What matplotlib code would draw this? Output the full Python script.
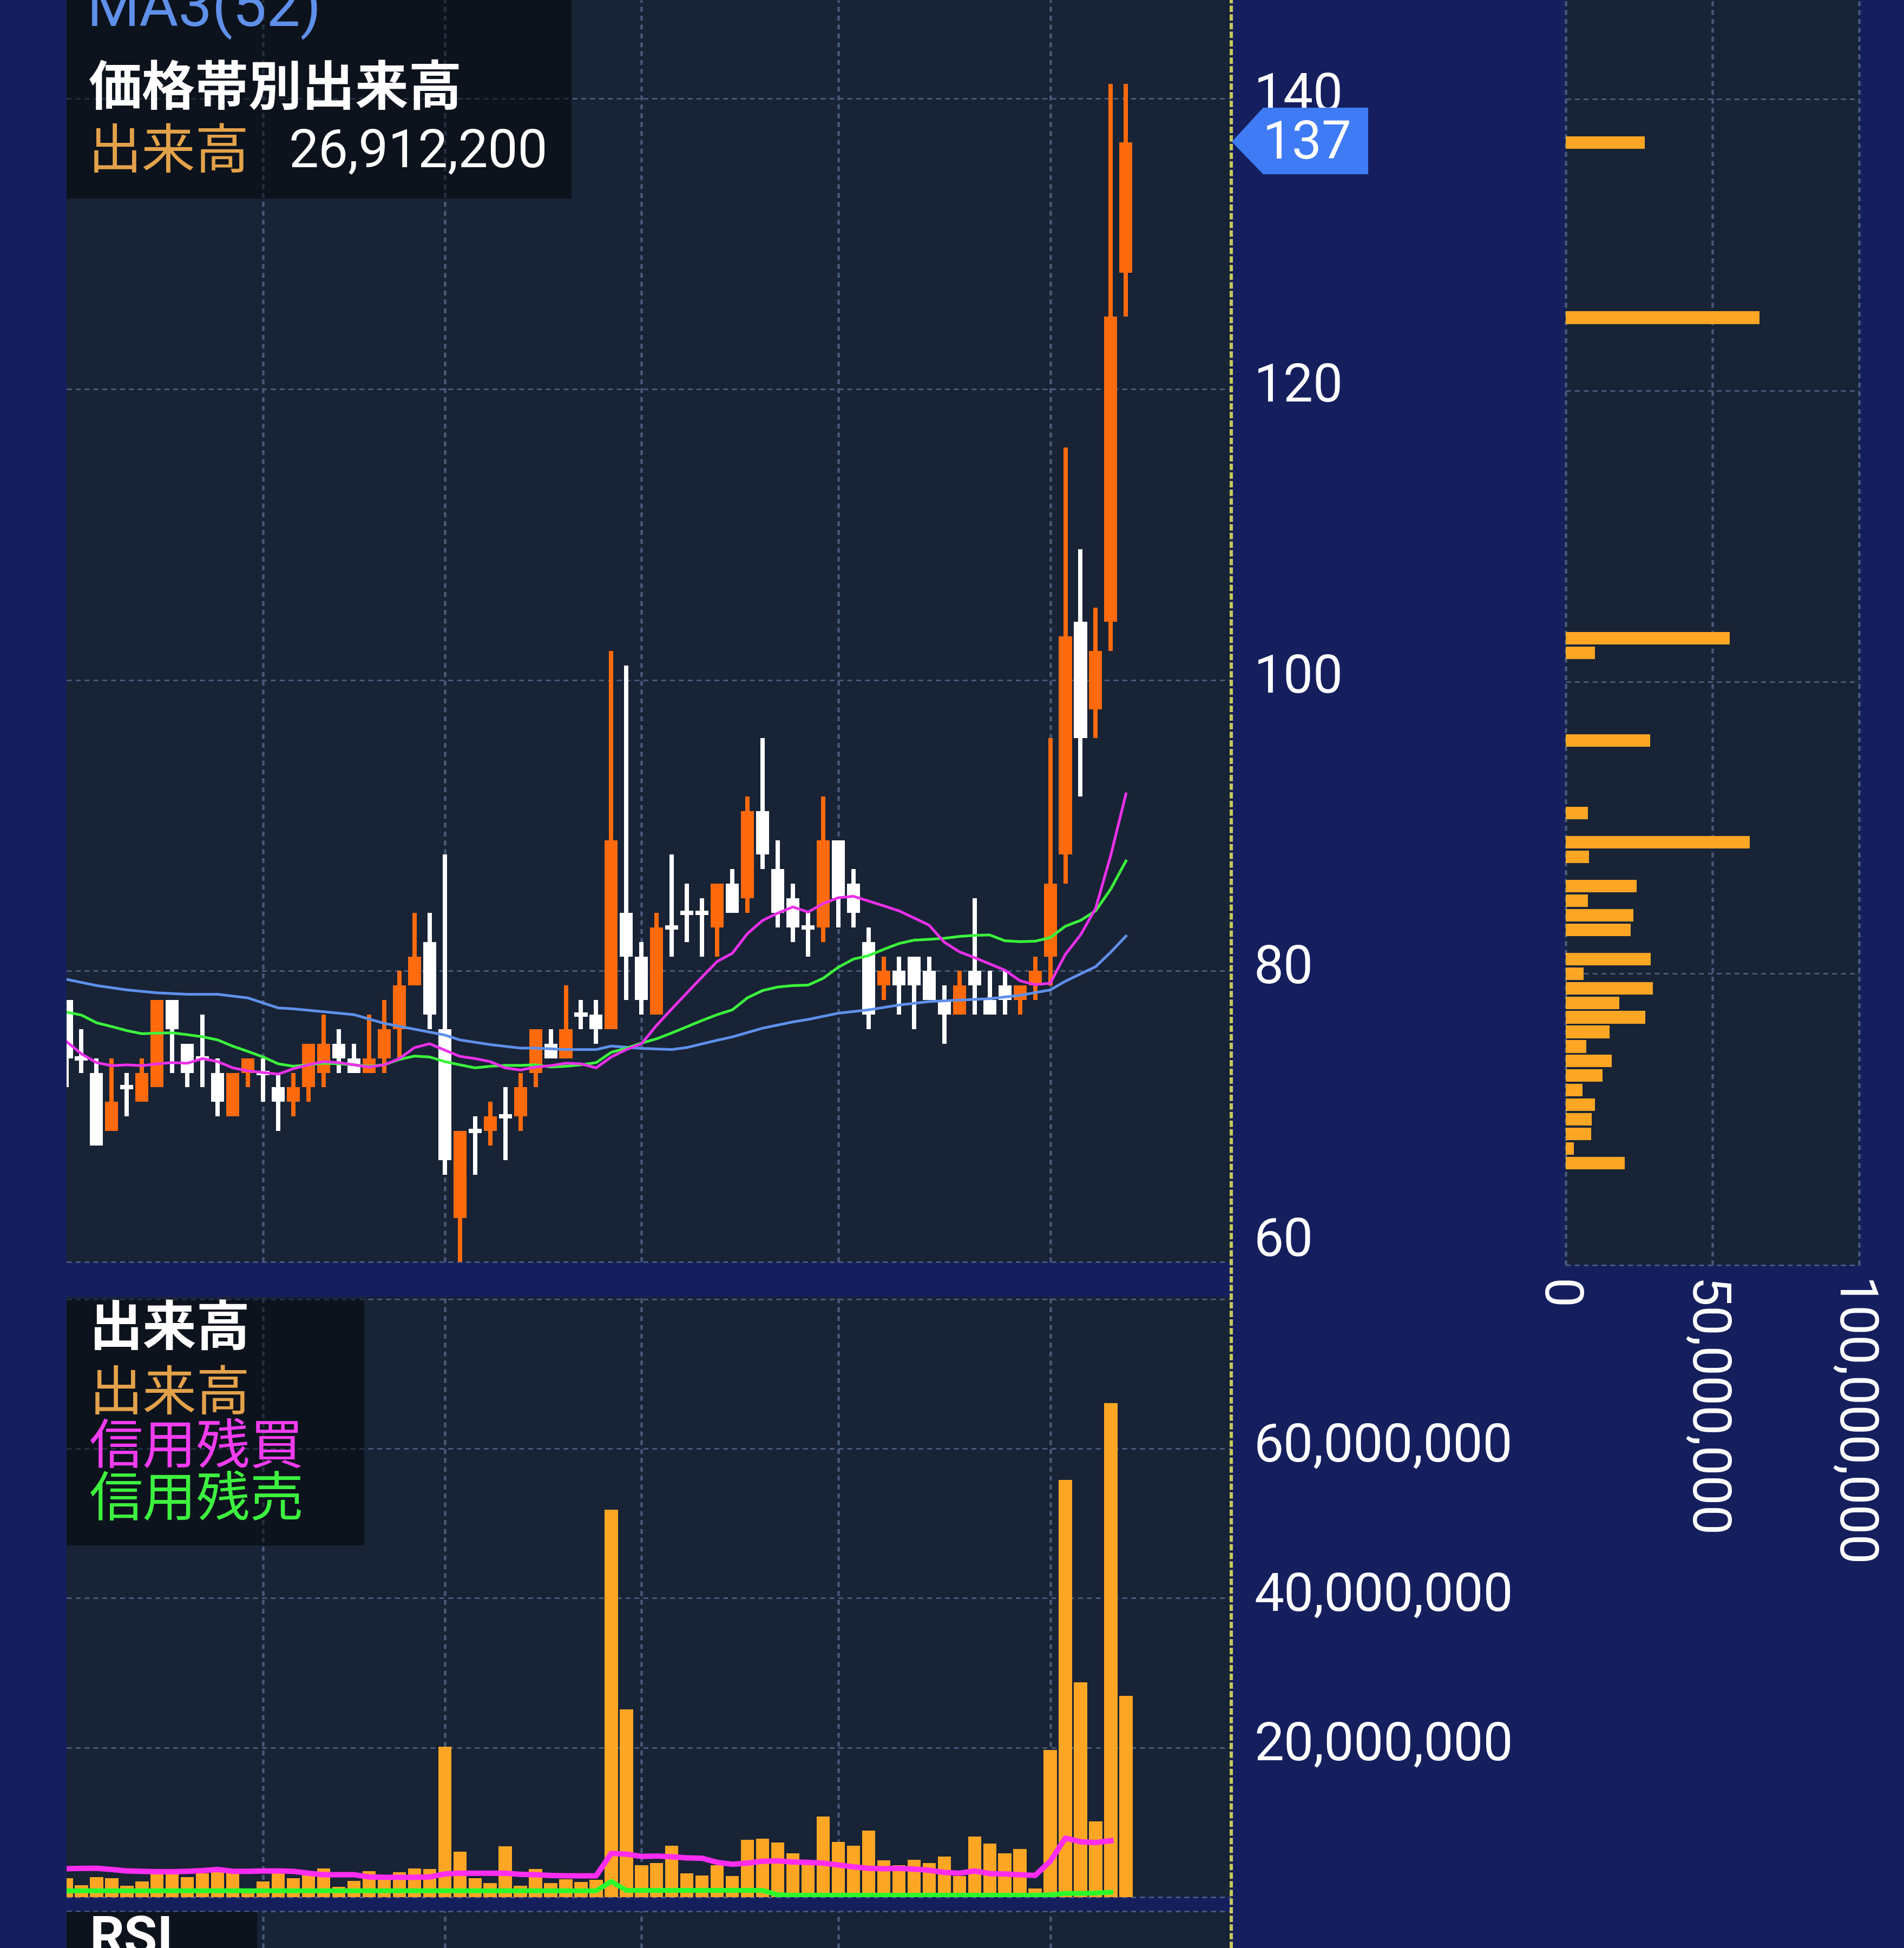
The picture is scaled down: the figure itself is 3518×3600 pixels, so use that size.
import matplotlib
matplotlib.use("Agg")
import matplotlib.pyplot as plt
from matplotlib.lines import Line2D
from matplotlib.patches import Polygon, Rectangle
from matplotlib.transforms import ScaledTranslation

W, H, DPI = 3518, 3600, 100

# candles, one row per session
body_top = [78,74,73,71,72,73,78,78,75,74,73,73,74,73,72,72,75,75,75,74,74,76,79,81,82,76,69,69,70,70,72,76,75,76,77,77,
            89,84,81,83,83,84,84,86,86,91,91,87,85,83,89,89,86,82,80,80,81,80,78,79,80,78,79,79,80,86,103,104,102,125,137]
body_bot = [74,74,68,69,72,71,72,76,73,74,71,70,73,73,71,71,72,73,74,73,73,74,76,79,77,67,63,69,69,70,70,73,74,74,77,76,
            76,81,78,77,83,84,84,83,84,85,88,84,83,83,83,85,84,77,79,79,79,78,77,77,79,77,78,78,79,81,88,96,98,104,128]
wick_high = [78,76,74,74,73,74,78,78,75,77,74,73,74,74,73,73,75,77,76,75,77,78,80,84,84,88,69,70,71,72,73,76,76,79,78,78,
             102,101,82,84,88,86,85,86,87,92,96,89,86,84,92,89,87,83,81,81,81,81,79,80,85,80,80,79,81,96,116,109,105,141,141]
wick_low = [72,73,68,69,70,71,72,73,72,72,70,70,72,71,69,70,71,72,73,73,73,73,74,79,76,66,60,66,68,67,69,72,74,74,76,75,
            76,78,77,77,81,82,81,81,84,84,87,83,82,81,82,83,83,76,78,77,76,78,75,77,77,77,77,77,78,79,86,92,96,102,125]
is_up = [0,0,0,1,0,1,1,0,0,0,0,1,1,0,0,1,1,1,0,0,1,1,1,1,0,0,1,0,1,0,1,1,0,1,0,0,
         1,0,0,1,0,0,0,1,0,1,0,0,0,0,1,0,0,0,1,0,0,0,0,1,0,0,0,1,1,1,1,0,1,1,1]

ma1 = [75.16,74.3,73.7,73.49,73.55,73.49,73.62,73.7,73.66,73.98,73.77,73.34,73.13,73.02,72.91,73.28,73.55,73.77,73.7,
       73.55,73.4,73.55,73.98,74.73,75.0,74.56,74.13,73.98,73.77,73.34,73.19,73.4,73.49,73.66,73.62,73.34,74.09,74.6,75.0,
       76.27,77.4,78.5,79.59,80.66,81.22,82.58,83.48,83.98,84.41,84.05,84.64,85.04,85.14,84.81,84.48,84.14,83.65,83.15,
       81.98,81.32,80.92,80.49,80.06,79.33,79.06,79.16,81.15,82.48,84.31,87.97,92.18]
ma2 = [77.18,76.97,76.44,76.18,75.9,75.69,75.73,75.75,75.62,75.48,75.26,74.83,74.47,74.09,73.62,73.45,73.55,73.66,73.62,
       73.55,73.45,73.55,73.92,74.15,74.09,73.77,73.55,73.34,73.45,73.51,73.51,73.55,73.4,73.45,73.55,73.7,74.41,74.69,75.05,
       75.34,75.74,76.17,76.6,77.0,77.33,78.16,78.66,78.9,79.0,79.03,79.5,80.26,80.82,81.06,81.49,81.89,82.12,82.18,
       82.25,82.38,82.45,82.48,82.08,82.02,82.05,82.3,83.08,83.48,84.14,85.64,87.57]
ma3_x = [0,2,4,6,8,10,12,14,15,17,19,21,23,25,26,28,30,31,33,35,36,38,40,41,43,44,46,48,49,51,53,55,57,59,61,63,65,66,67,68,69,70]
ma3_y = [79.43,79.0,78.7,78.5,78.4,78.4,78.15,77.46,77.4,77.2,77.0,76.4,76.0,75.6,75.26,74.94,74.7,74.7,74.6,74.6,74.84,74.68,
         74.6,74.74,75.24,75.47,76.07,76.5,76.67,77.1,77.33,77.66,77.9,78.0,78.1,78.33,78.7,79.3,79.8,80.3,81.3,82.4]

# volume in millions
volume = [2.5,1.6,2.65,2.5,1.5,2.1,3.2,3.2,2.7,3.2,3.45,3.2,1.15,2.1,3.2,2.5,3.0,3.85,1.4,2.2,3.45,2.4,3.3,3.85,3.75,
          20.1,6.1,2.5,1.9,6.8,1.5,3.75,1.9,2.4,2.0,2.35,51.8,25.1,4.3,4.55,6.9,3.15,2.9,4.3,2.85,7.65,7.8,7.3,5.85,4.8,
          10.8,7.4,6.85,8.9,4.9,4.3,5.0,4.55,5.45,2.8,8.1,7.15,5.85,6.45,1.15,19.7,55.8,28.7,10.1,66.1,26.9]
margin_buy = [3.8,3.85,3.86,3.7,3.5,3.45,3.4,3.4,3.45,3.55,3.7,3.45,3.45,3.5,3.5,3.45,3.2,3.0,3.0,3.0,2.7,2.65,2.65,2.65,2.7,
              3.1,3.2,3.2,3.2,3.2,3.05,3.0,2.9,2.85,2.85,2.85,5.85,5.75,5.45,5.5,5.4,5.25,5.2,4.65,4.4,4.55,4.8,4.85,4.7,4.65,
              4.55,4.3,4.05,3.85,3.8,3.85,3.75,3.6,3.3,3.2,3.5,3.15,3.1,3.0,2.9,4.8,7.9,7.4,7.3,7.55]
margin_sell = [.85,.85,.85,.85,.85,.85,.85,.85,.85,.85,.85,.85,.85,.85,.85,.85,.85,.85,.85,.85,.85,.85,.85,.85,.85,
               .85,.85,.85,.85,.85,.85,.85,.85,.85,.85,.85,2.1,.9,.9,.9,.9,.9,.9,.9,.9,.9,.9,.3,.25,.25,
               .25,.25,.25,.25,.25,.25,.25,.25,.25,.25,.25,.25,.25,.25,.25,.3,.5,.5,.55,.65]

# volume by price, millions
hist_price = [137,125,103,102,96,91,89,88,86,85,84,83,81,80,79,78,77,76,75,74,73,72,71,70,69,68,67]
hist_vol = [26.9,66.1,55.9,10.05,28.7,7.6,62.7,7.9,24.1,7.5,23.1,22.1,28.9,6.1,29.7,18.3,27.2,14.9,7.1,15.6,12.6,5.7,10.0,8.8,8.7,2.8,20.1]

price_ticks = [60,80,100,120,140]
vol_ticks = [0,20,40,60,80]
vol_tick_labels = ["","20,000,000","40,000,000","60,000,000",""]
hist_ticks = [0,50,100]
hist_tick_labels = ["0","50,000,000","100,000,000"]
date_lines = [13,25,38,51,65]

NAVY = "#151f5e"
PANEL = "#182336"
GRID = "#475979"
ORANGE = "#ff6a0d"
BAR = "#fca624"
PINK = "#ec30ea"
GREEN = "#3bf53c"
BLUE = "#5f90ea"

plt.rcParams["font.family"] = ["Roboto", "Noto Sans CJK JP"]
plt.rcParams["lines.scale_dashes"] = False
DASH = (0, (6.5, 5.3))
LABEL = 70.5
CJK = ["Noto Sans CJK JP"]

fig = plt.figure(figsize=(W / DPI, H / DPI), dpi=DPI, facecolor=NAVY)


def px(n):
    return n * 72 / DPI


def panel(left, top, right, bottom):
    ax = fig.add_axes([left / W, 1 - bottom / H, (right - left) / W, (bottom - top) / H], facecolor=PANEL)
    for s in ax.spines.values():
        s.set_visible(False)
    ax.tick_params(length=0, colors="white", labelsize=LABEL)
    ax.set_axisbelow(True)
    ax.grid(True, axis="y", color=GRID, linestyle=DASH, linewidth=px(3))
    ax.grid(True, axis="x", color=GRID, linestyle=DASH, linewidth=px(4.5))
    for g in ax.get_xgridlines() + ax.get_ygridlines():
        g.set_clip_on(False)
    return ax


def nudge(labels, dx, dy):
    for lab in labels:
        lab.set_transform(lab.get_transform() + ScaledTranslation(dx / DPI, dy / DPI, fig.dpi_scale_trans))


def box(left, top, right, bottom, ax):
    ax.add_patch(Rectangle((left / W, 1 - bottom / H), (right - left) / W, (bottom - top) / H,
                           transform=fig.transFigure, facecolor="black", alpha=0.45, edgecolor="none",
                           zorder=6, clip_on=False))


def label(x, y, s, color, weight="normal", size=LABEL, family=None):
    fig.text(x / W, 1 - y / H, s, color=color, fontsize=size, fontweight=weight, va="baseline", ha="left",
             family=family or ["Roboto", "Noto Sans CJK JP"], zorder=10)


# x position of candle i is 122.5 + 27.97 * i
xlim = ((123 - 122.5) / 27.97, (2275 - 122.5) / 27.97)
sessions = list(range(len(volume)))

# price panel
ax = panel(123, 0, 2275, 2332)
ax.set_xlim(*xlim)
ax.set_ylim(60, 146.77)
ax.set_xticks(date_lines)
ax.set_xticklabels([])
ax.yaxis.tick_right()
ax.set_yticks(price_ticks)
ax.set_yticklabels([str(t) for t in price_ticks], ha="left")
ax.tick_params(axis="y", pad=px(42))
tick_labs = ax.get_yticklabels()
nudge(tick_labs[1:], 0, 14)
nudge(tick_labs[:1], 0, 48)

for i in sessions:
    c = ORANGE if is_up[i] else "white"
    ax.vlines(i, wick_low[i], wick_high[i], color=c, linewidth=px(8), zorder=3)
    if body_top[i] == body_bot[i]:
        ax.hlines(body_top[i], i - 0.43, i + 0.43, color=c, linewidth=px(8), zorder=3)
    else:
        ax.bar(i, body_top[i] - body_bot[i], bottom=body_bot[i], width=0.86, color=c, zorder=3)
ax.plot(ma3_x, ma3_y, color=BLUE, linewidth=px(5), zorder=4)
ax.plot(sessions, ma2, color=GREEN, linewidth=px(5), zorder=4)
ax.plot(sessions, ma1, color=PINK, linewidth=px(5), zorder=4)

box(123, 0, 1056, 367, ax)
label(161, 48, "MA3(52)", BLUE, size=80)
label(164, 194, "価格帯別出来高", "white", "bold", 71, CJK)
label(163, 311, "出来高", "#e3a24a", size=71.5, family=CJK)
label(533, 308, "26,912,200", "white")

# volume panel
ax2 = panel(123, 2397, 2275, 3506)
ax2.set_xlim(*xlim)
ax2.set_ylim(0, 80.27)
ax2.set_xticks(date_lines)
ax2.set_xticklabels([])
ax2.yaxis.tick_right()
ax2.set_yticks(vol_ticks)
ax2.set_yticklabels(vol_tick_labels, ha="left")
ax2.tick_params(axis="y", pad=px(42))
nudge(ax2.get_yticklabels(), 0, 14)
ax2.bar(sessions, volume, width=0.87, color=BAR, zorder=3)
ax2.plot(sessions[:70], margin_buy, color="#ff2df0", linewidth=px(10), zorder=4)
ax2.plot(sessions[:70], margin_sell, color="#2bfa2b", linewidth=px(9), zorder=4)

box(123, 2400, 673, 2856, ax2)
label(165, 2486, "出来高", "white", "bold", 71.5, CJK)
label(165, 2606, "出来高", "#e3a24a", size=71.5, family=CJK)
label(165, 2705, "信用残買", "#f23cf0", size=71.5, family=CJK)
label(165, 2802, "信用残売", "#3df23f", size=71.5, family=CJK)

# RSI panel, only its top edge is in the frame
ax3 = panel(123, 3532, 2275, 3600)
ax3.set_xlim(*xlim)
ax3.set_ylim(0, 1)
ax3.set_xticks(date_lines)
ax3.set_xticklabels([])
ax3.set_yticks([1])
ax3.set_yticklabels([])
box(123, 3533, 475, 3600, ax3)
label(166, 3612, "RSI", "white", "bold", 72, ["Roboto"])

# volume by price panel
ax4 = panel(2893, 0, 3435, 2338)
ax4.set_xlim(0, 100)
ax4.set_ylim(60, 146.79)
ax4.set_yticks(price_ticks)
ax4.set_yticklabels([])
ax4.set_xticks(hist_ticks)
ax4.set_xticklabels(hist_tick_labels, rotation=-90, ha="center", va="top")
ax4.tick_params(axis="x", pad=px(27))
nudge(ax4.get_xticklabels(), -16, 0)
ax4.barh(hist_price, hist_vol, height=0.86, color=BAR, zorder=3)

# crosshair and last price tag
fig.add_artist(Line2D([2275 / W, 2275 / W], [0, 1], color="#c6c85c", linewidth=px(6), linestyle=(0, (8.5, 3)),
                      transform=fig.transFigure, zorder=5))
tag = [(2276, 262), (2334, 199), (2528, 199), (2528, 322), (2334, 322)]
fig.add_artist(Polygon([(x / W, 1 - y / H) for x, y in tag], closed=True, facecolor="#3f7bf5", edgecolor="none",
                       transform=fig.transFigure, zorder=6))
fig.text(2415 / W, 1 - 266 / H, "137", color="white", fontsize=LABEL, ha="center", va="center", zorder=10)

fig.savefig("out.png", dpi=DPI, facecolor=NAVY)
